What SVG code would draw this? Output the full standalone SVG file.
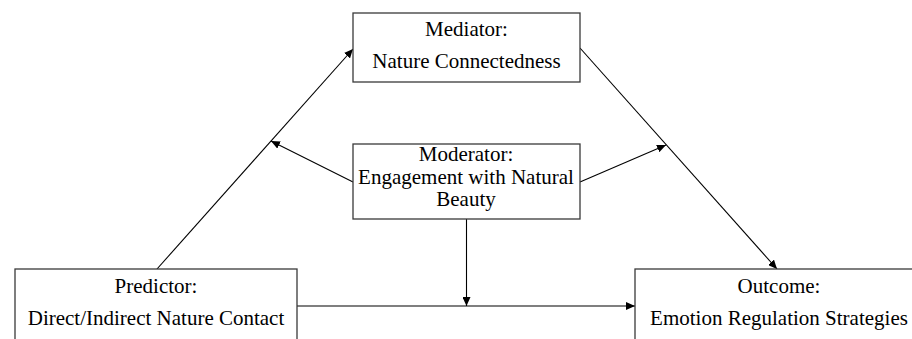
<svg xmlns="http://www.w3.org/2000/svg" width="912" height="339" viewBox="0 0 912 339">
  <style>
    .box { fill: #ffffff; stroke: #3a3a3a; stroke-width: 1.3; }
    .lbl { font-family: "Liberation Serif", "Times New Roman", serif; font-size: 21px; fill: #000000; text-anchor: middle; }
    .con { stroke: #000000; stroke-width: 1.1; fill: none; marker-end: url(#arr); }
  </style>
  <defs>
    <marker id="arr" markerUnits="userSpaceOnUse" markerWidth="10" markerHeight="8" refX="9" refY="4" orient="auto">
      <path d="M0,0 L9,4 L0,8 Z" fill="#000000"/>
    </marker>
  </defs>
  <rect width="912" height="339" fill="#ffffff"/>
  <g id="connectors">
    <line class="con" x1="157" y1="269" x2="353" y2="49"/>
    <line class="con" x1="580" y1="48" x2="777" y2="269"/>
    <line class="con" x1="353" y1="182" x2="271" y2="141"/>
    <line class="con" x1="580" y1="182" x2="666" y2="145"/>
    <line class="con" x1="466.5" y1="219" x2="466.5" y2="306"/>
    <line class="con" x1="297" y1="306" x2="635" y2="306"/>
  </g>
  <g id="mediator">
    <rect class="box" x="353" y="13" width="227" height="69"/>
    <text class="lbl" x="466.5" y="36">Mediator:</text>
    <text class="lbl" x="466.5" y="68">Nature Connectedness</text>
  </g>
  <g id="moderator">
    <rect class="box" x="353" y="144" width="227" height="75"/>
    <text class="lbl" x="466" y="161">Moderator:</text>
    <text class="lbl" x="466" y="184">Engagement with Natural</text>
    <text class="lbl" x="466" y="206">Beauty</text>
  </g>
  <g id="predictor">
    <rect class="box" x="15" y="269" width="282" height="90"/>
    <text class="lbl" x="156" y="293">Predictor:</text>
    <text class="lbl" x="156" y="325">Direct/Indirect Nature Contact</text>
  </g>
  <g id="outcome">
    <rect class="box" x="635" y="269" width="290" height="90"/>
    <text class="lbl" x="779" y="293">Outcome:</text>
    <text class="lbl" x="779" y="325">Emotion Regulation Strategies</text>
  </g>
</svg>
